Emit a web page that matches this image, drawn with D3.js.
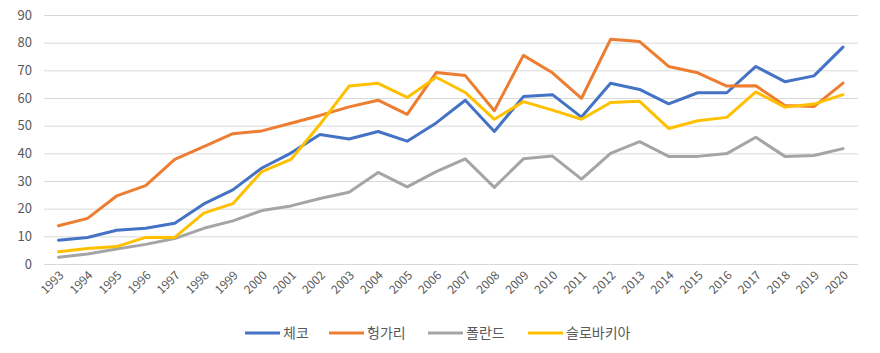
<!DOCTYPE html>
<html><head><meta charset="utf-8">
<script src="https://cdn.jsdelivr.net/npm/d3@7"></script>
<style>body{margin:0;background:#fff}svg{display:block}text{font-family:"Noto Sans CJK KR","Noto Sans",sans-serif}</style>
</head><body><svg id="c" width="880" height="353"></svg>
<script>
const years = [1993,1994,1995,1996,1997,1998,1999,2000,2001,2002,2003,2004,2005,2006,2007,2008,2009,2010,2011,2012,2013,2014,2015,2016,2017,2018,2019,2020];
const seriesNames = ["체코","헝가리","폴란드","슬로바키아"];
const czech    = [8.6,9.6,12.2,12.9,14.7,21.7,26.8,34.7,40.1,46.8,45.2,47.9,44.4,51,59.2,47.9,60.5,61.2,53.1,65.3,63.1,57.9,61.9,61.9,71.4,65.9,68,78.4];
const hungary  = [13.8,16.5,24.6,28.3,37.8,42.4,47.1,48.1,50.9,53.7,56.8,59.2,54.1,69.2,68.1,55.4,75.4,69.1,59.9,81.2,80.4,71.4,69.1,64.3,64.4,57.3,56.9,65.4];
const poland   = [2.4,3.6,5.4,7.1,9.2,12.9,15.6,19.3,21,23.7,25.9,33.1,27.9,33.4,38,27.7,38,39,30.7,40,44.2,38.9,38.9,39.9,45.8,38.9,39.2,41.7];
const slovakia = [4.4,5.6,6.3,9.6,9.6,18.4,21.8,33.4,37.8,50.5,64.3,65.3,60.2,67.5,62,52.3,58.7,55.6,52.3,58.4,58.8,49,51.8,53,62.2,56.7,57.8,61.2];
const yTicks = [0,10,20,30,40,50,60,70,80,90];
const colors = ["#4472C4","#ED7D31","#A5A5A5","#FFC000"];
const data = [czech,hungary,poland,slovakia];

const svg = d3.select("#c");
const x = d3.scalePoint().domain(years).range([58.5,843]);
const y = d3.scaleLinear().domain([0,90]).range([264,15]);

svg.append("g").selectAll("line").data(yTicks).join("line")
  .attr("x1",44).attr("x2",858).attr("y1",d=>y(d)+0.5).attr("y2",d=>y(d)+0.5)
  .attr("stroke","#D9D9D9").attr("stroke-width",1);

svg.append("g").selectAll("text").data(yTicks).join("text")
  .attr("x",32).attr("y",d=>y(d)).attr("dy","0.35em").attr("text-anchor","end")
  .attr("font-size",13).attr("fill","#595959").text(d=>d);

svg.append("g").selectAll("text").data(years).join("text")
  .attr("transform",d=>`translate(${x(d)+3},${273}) rotate(-45)`)
  .attr("dy","0.35em").attr("text-anchor","end")
  .attr("font-size",12).attr("fill","#595959").text(d=>d);

const line = d3.line().x((d,i)=>x(years[i])).y(d=>y(d));
svg.append("g").selectAll("path").data(data).join("path")
  .attr("d",d=>line(d)).attr("fill","none")
  .attr("stroke",(d,i)=>colors[i]).attr("stroke-width",3).attr("stroke-linejoin","round").attr("stroke-linecap","round");

const legX = [245,329,428,528];
const lg = svg.append("g").selectAll("g").data(seriesNames).join("g")
  .attr("transform",(d,i)=>`translate(${legX[i]},333)`);
lg.append("line").attr("x1",0).attr("x2",35).attr("y1",0).attr("y2",0)
  .attr("stroke",(d,i)=>colors[i]).attr("stroke-width",3);
lg.append("text").attr("x",38).attr("y",0).attr("dy","0.35em")
  .attr("font-size",14).attr("fill","#595959").text(d=>d);
</script></body></html>
